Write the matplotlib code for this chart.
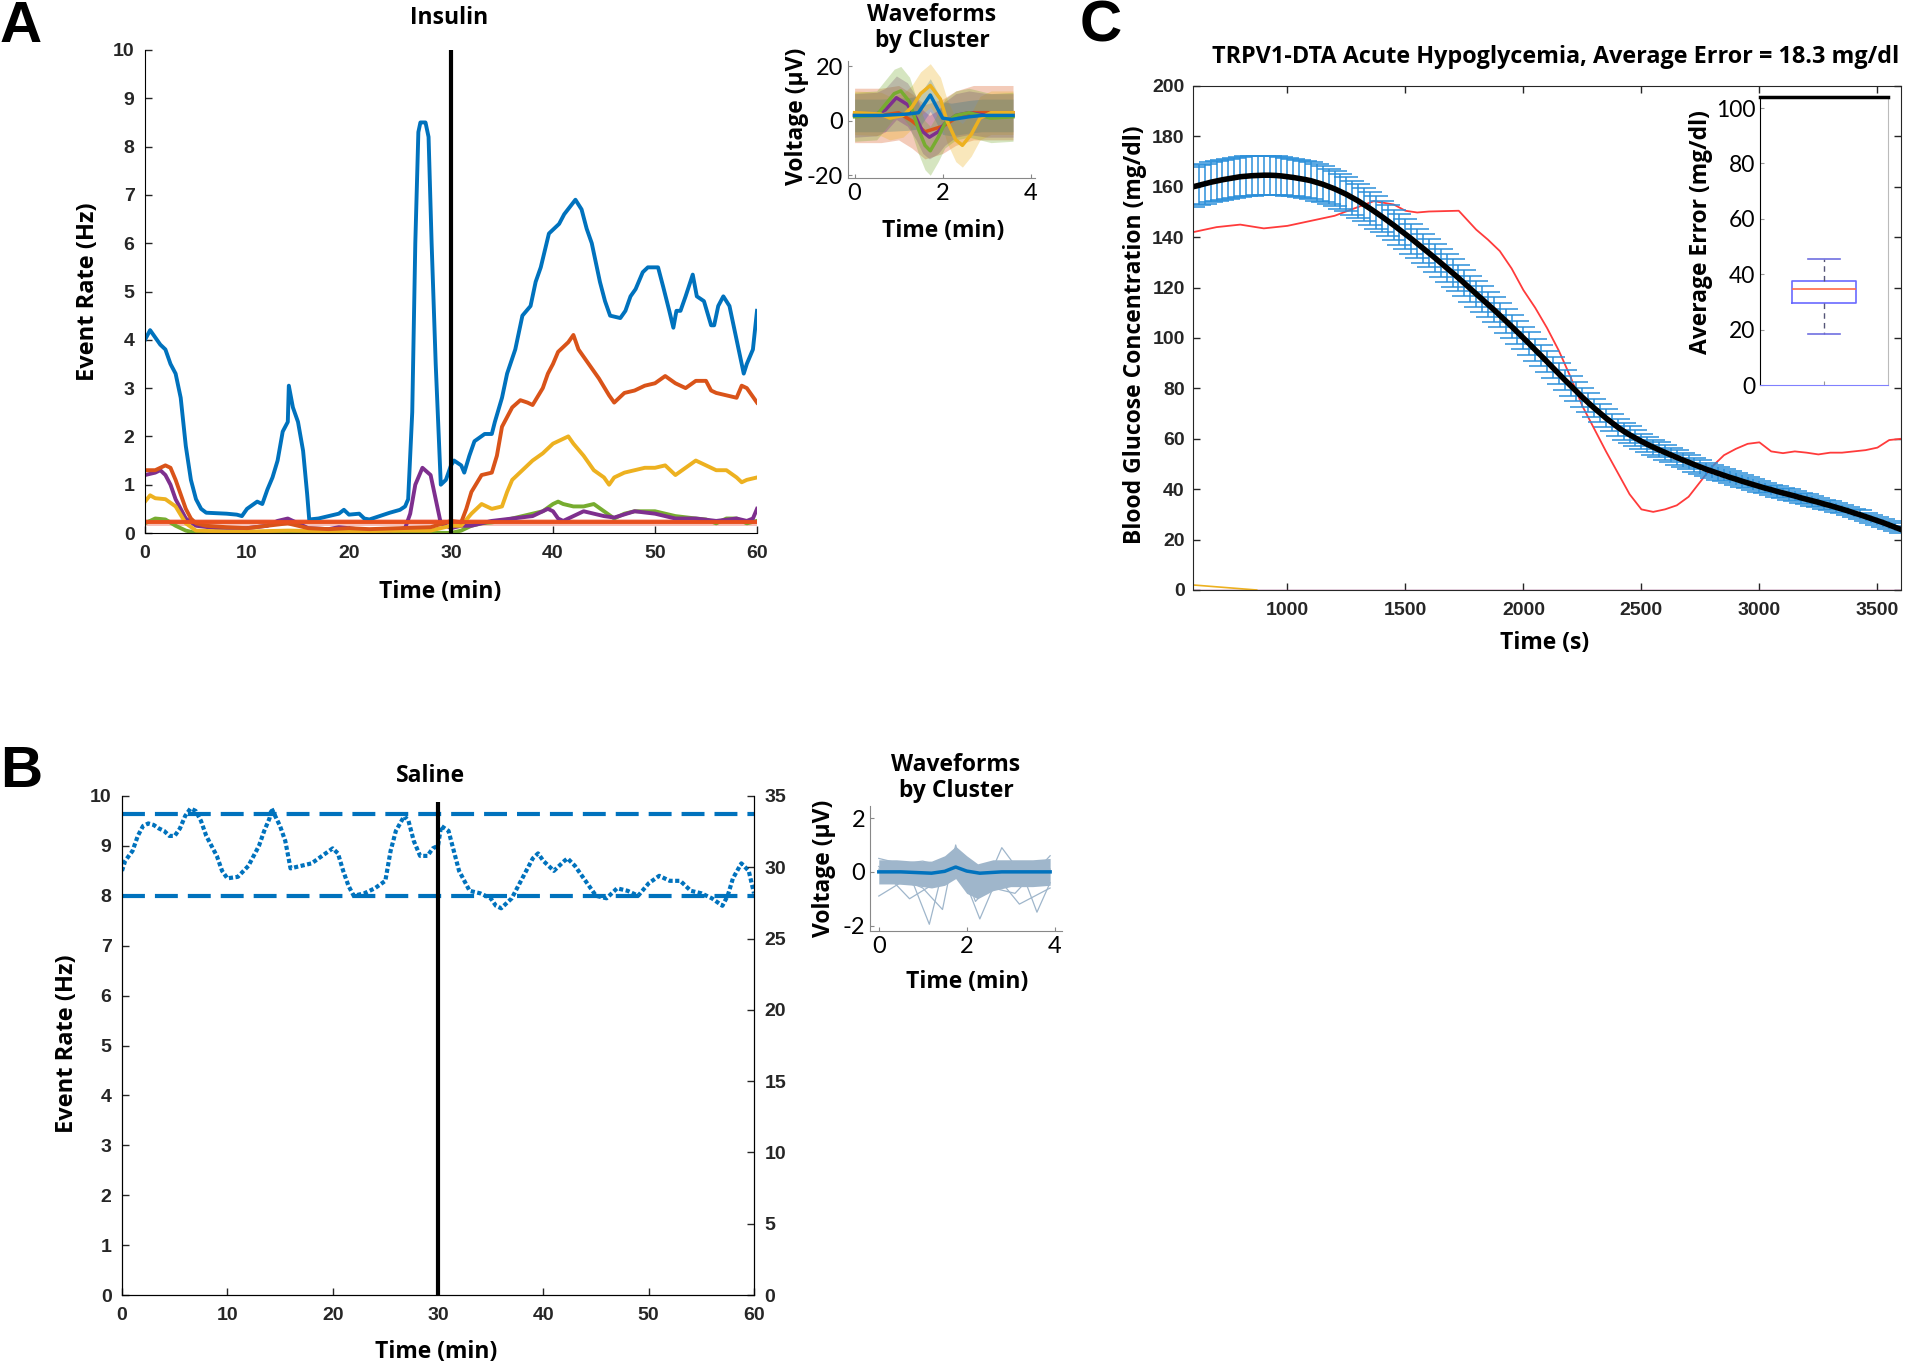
import matplotlib
matplotlib.use("Agg")
import matplotlib.pyplot as plt

# ---------------- data ----------------
# Panel A: insulin event rates (Hz) per cluster
blue_t = [0, 0.5, 1.5, 2, 2.5, 3, 3.5, 4, 4.5, 5, 5.5, 6, 8, 9, 9.5, 10, 11, 11.5, 12, 12.5, 13, 13.5, 14,
          14.1, 14.5, 15, 15.5, 15.9, 16.1, 17, 18, 19, 19.5, 20, 21, 21.5, 22, 23, 24, 25, 25.5, 25.8, 26.2,
          26.5, 26.8, 27, 27.5, 27.8, 28.1, 28.5, 29, 29.5, 30, 30.3, 31, 31.3, 31.8, 32.3, 33.3, 34, 34.3,
          35, 35.5, 36.3, 37, 37.8, 38.3, 38.8, 39.6, 40.1, 40.6, 41.1, 42.2, 42.8, 43.3, 43.8, 44.6, 45.1,
          45.6, 46.6, 47.1, 47.6, 48.1, 48.8, 49.3, 50.3, 50.8, 51.4, 51.8, 52.1, 52.5, 53, 53.7, 54.1, 54.8,
          55.5, 55.8, 56.2, 56.7, 57.3, 58, 58.7, 59, 59.6, 60]
blue_v = [4.0, 4.2, 3.9, 3.8, 3.5, 3.3, 2.8, 1.8, 1.1, 0.7, 0.5, 0.42, 0.4, 0.38, 0.35, 0.5, 0.65, 0.6, 0.9,
          1.15, 1.5, 2.1, 2.3, 3.05, 2.6, 2.3, 1.7, 0.8, 0.28, 0.3, 0.35, 0.4, 0.48, 0.38, 0.4, 0.3, 0.28,
          0.35, 0.42, 0.48, 0.55, 0.7, 2.5, 6.0, 8.3, 8.5, 8.5, 8.2, 6.0, 3.5, 1.0, 1.1, 1.4, 1.5, 1.4, 1.25,
          1.6, 1.9, 2.05, 2.05, 2.3, 2.8, 3.3, 3.8, 4.5, 4.7, 5.2, 5.5, 6.2, 6.3, 6.4, 6.6, 6.9, 6.7, 6.3, 6.0,
          5.2, 4.8, 4.5, 4.45, 4.6, 4.9, 5.05, 5.4, 5.5, 5.5, 5.1, 4.6, 4.25, 4.6, 4.6, 4.9, 5.35, 4.9, 4.8,
          4.3, 4.3, 4.7, 4.9, 4.7, 4.0, 3.3, 3.5, 3.8, 4.6]
orange_t = [0, 1, 2, 2.5, 3, 3.5, 4, 4.5, 5, 6, 8, 10, 12, 14, 16, 18, 20, 22, 25, 28, 30, 31, 31.5, 32, 33,
            34, 34.5, 35, 36, 36.8, 37.5, 38, 39, 39.5, 40, 40.5, 41.5, 42, 42.5, 43.5, 44.5, 45.5, 46, 47,
            48, 49, 50, 51, 52, 53, 54, 55, 55.5, 56, 57, 58, 58.5, 59, 60]
orange_v = [1.3, 1.3, 1.4, 1.35, 1.1, 0.8, 0.5, 0.3, 0.2, 0.15, 0.12, 0.1, 0.15, 0.2, 0.1, 0.08, 0.1, 0.08,
            0.1, 0.12, 0.25, 0.22, 0.5, 0.85, 1.2, 1.25, 1.6, 2.2, 2.6, 2.75, 2.7, 2.65, 3.0, 3.3, 3.5, 3.75,
            3.95, 4.1, 3.8, 3.5, 3.2, 2.85, 2.7, 2.9, 2.95, 3.05, 3.1, 3.25, 3.1, 3.0, 3.15, 3.15, 2.95, 2.9,
            2.85, 2.8, 3.05, 3.0, 2.7]
yellow_t = [0, 0.5, 1, 2, 3, 4, 5, 8, 10, 14, 20, 25, 28, 30, 31, 32, 33, 34, 35, 35.5, 36, 37, 38, 39, 40,
            41, 41.5, 42, 43, 44, 45, 45.5, 46, 47, 48, 49, 50, 51, 52, 53, 54, 55, 56, 57, 58, 58.5, 59, 60]
yellow_v = [0.65, 0.78, 0.72, 0.7, 0.55, 0.2, 0.05, 0.03, 0.03, 0.05, 0.03, 0.05, 0.05, 0.15, 0.15, 0.4,
            0.6, 0.5, 0.55, 0.85, 1.1, 1.3, 1.5, 1.65, 1.85, 1.95, 2.0, 1.85, 1.6, 1.3, 1.15, 1.0, 1.15, 1.25,
            1.3, 1.35, 1.35, 1.4, 1.2, 1.35, 1.5, 1.4, 1.3, 1.3, 1.15, 1.05, 1.1, 1.15]
purple_t = [0, 1, 1.5, 2, 2.5, 3, 4, 5, 7, 10, 12, 13, 14, 15, 16, 18, 19, 20, 22, 24, 25.5, 26, 26.5, 27.2,
            28, 28.5, 29, 30, 31, 32, 33, 34, 36, 38, 39, 39.5, 40, 40.5, 41, 42, 43, 44, 45, 46, 48, 50, 52,
            54, 56, 58, 59, 59.6, 60]
purple_v = [1.2, 1.25, 1.3, 1.2, 1.0, 0.7, 0.3, 0.15, 0.1, 0.1, 0.15, 0.25, 0.3, 0.2, 0.1, 0.08, 0.12, 0.1,
            0.05, 0.05, 0.1, 0.4, 1.0, 1.35, 1.2, 0.7, 0.2, 0.1, 0.15, 0.15, 0.2, 0.25, 0.3, 0.35, 0.45, 0.5,
            0.45, 0.3, 0.25, 0.35, 0.45, 0.4, 0.35, 0.32, 0.45, 0.4, 0.3, 0.3, 0.25, 0.3, 0.25, 0.3, 0.5]
green_t = [0, 1, 2, 3, 4, 5, 10, 15, 20, 25, 30, 31, 32, 33, 34, 35, 36, 37, 38, 39, 40, 40.5, 41, 42, 43,
           44, 45, 46, 47, 48, 49, 50, 51, 52, 54, 55, 56, 57, 58, 59, 60]
green_v = [0.2, 0.3, 0.28, 0.15, 0.05, 0.0, 0.0, 0.02, 0.0, 0.02, 0.0, 0.05, 0.15, 0.2, 0.22, 0.25, 0.3,
           0.35, 0.4, 0.45, 0.6, 0.65, 0.6, 0.55, 0.55, 0.6, 0.45, 0.3, 0.4, 0.45, 0.45, 0.45, 0.4, 0.35,
           0.3, 0.28, 0.2, 0.3, 0.3, 0.2, 0.25]
threshold_t = [0, 60]
threshold_v = [0.22, 0.22]

# Waveforms (insulin), mean per cluster and spread
wf_blue_t = [0, 0.6, 1.2, 1.45, 1.72, 2.0, 2.2, 2.6, 2.9, 3.6]
wf_blue_v = [2, 2, 2.5, 3, 9.5, 1, 0.5, 1.5, 2, 2]
wf_orange_t = [0, 0.6, 1.0, 1.3, 1.6, 1.8, 2.0, 2.3, 2.7, 3.6]
wf_orange_v = [2, 2, 3, 0, -4, -3, -2, 1, 3, 3]
wf_yellow_t = [0, 0.6, 0.8, 1.1, 1.3, 1.5, 1.72, 1.95, 2.1, 2.3, 2.45, 2.65, 2.85, 3.1, 3.6]
wf_yellow_v = [3, 2.5, 1, 2, 5, 10, 13, 8, 0, -7, -9, -5, 1, 3, 3]
wf_purple_t = [0, 0.5, 0.7, 0.95, 1.2, 1.4, 1.55, 1.7, 1.9, 2.05, 2.3, 2.6, 3.0, 3.6]
wf_purple_v = [2, 2.5, 4, 8.5, 6, 1, -4, -6, -4, -1, 2, 3, 2, 2]
wf_green_t = [0, 0.5, 0.7, 0.9, 1.05, 1.25, 1.45, 1.6, 1.72, 1.9, 2.05, 2.3, 2.6, 2.85, 3.1, 3.6]
wf_green_v = [1.5, 2, 6, 10, 11, 7, -3, -9, -11, -6, -1, 2, 3, 2, 1, 1.5]
wf_spread = {"blue": 6, "orange": 10, "yellow": 8, "purple": 8, "green": 9}

# Panel B: saline event rate (Hz)
saline_t = [0, 0.3, 1, 1.5, 2, 2.5, 3, 3.5, 4, 4.5, 5, 5.5, 6, 6.5, 7, 7.5, 8, 8.5, 9, 9.5, 10, 11, 12, 13,
            13.5, 14, 14.2, 15, 15.5, 16, 17, 18, 19, 20, 20.5, 21, 21.5, 22, 23, 24, 25, 25.5, 26, 26.8,
            27.2, 27.7, 28.3, 29, 29.5, 30, 30.3, 31, 31.5, 32, 33, 34, 35, 35.5, 36, 37, 38, 39, 39.5, 40,
            41, 42, 42.3, 43, 44, 45, 46, 47, 48, 49, 50, 51, 52, 53, 54, 55, 56, 57, 57.5, 58, 58.8, 59.5, 60]
saline_v = [8.5, 8.7, 8.9, 9.2, 9.4, 9.45, 9.42, 9.35, 9.3, 9.2, 9.2, 9.35, 9.6, 9.75, 9.7, 9.5, 9.2, 9.0,
            8.8, 8.5, 8.35, 8.38, 8.6, 9.0, 9.3, 9.55, 9.75, 9.4, 9.1, 8.55, 8.6, 8.65, 8.8, 8.95, 8.85, 8.5,
            8.2, 8.0, 8.05, 8.15, 8.3, 8.9, 9.3, 9.6, 9.5, 9.1, 8.8, 8.8, 8.95, 9.0, 9.4, 9.3, 8.9, 8.5, 8.1,
            8.05, 7.95, 7.8, 7.75, 7.95, 8.35, 8.75, 8.85, 8.7, 8.5, 8.7, 8.75, 8.6, 8.3, 8.0, 7.95, 8.15,
            8.1, 8.0, 8.25, 8.4, 8.3, 8.3, 8.1, 8.05, 7.95, 7.8, 8.0, 8.35, 8.65, 8.5, 8.05]
saline_bounds = [9.63, 8.0]

# Waveforms (saline)
wfs_t = [0, 0.5, 1.2, 1.5, 1.75, 2.0, 2.3, 2.8, 3.9]
wfs_v = [0, 0, -0.05, 0.02, 0.18, 0.03, -0.05, 0, 0]
wfs_band_t = [0, 0.4, 0.8, 1.2, 1.5, 1.75, 2.0, 2.25, 2.6, 3.0, 3.5, 3.9]
wfs_band_hi = [0.45, 0.45, 0.4, 0.4, 0.6, 0.95, 0.6, 0.3, 0.45, 0.45, 0.45, 0.5]
wfs_band_lo = [-0.45, -0.45, -0.5, -0.6, -0.5, -0.25, -0.8, -1.0, -0.7, -0.55, -0.55, -0.5]
wfs_out_t = [[0, 0.4, 0.8, 1.15, 1.4, 1.75, 2.1, 2.6, 3.0, 3.9],
             [0, 0.6, 1.0, 1.45, 1.75, 2.0, 2.3, 2.6, 3.1, 3.9],
             [0, 0.7, 1.3, 1.8, 2.4, 2.8, 3.3, 3.6, 3.9],
             [0, 0.5, 1.0, 1.5, 1.75, 2.2, 2.7, 3.2, 3.9]]
wfs_out_v = [[0.1, -0.2, -0.5, -1.95, -0.3, 0.6, -0.3, 0.2, -0.4, 0.1],
             [-0.9, -0.3, -0.6, -1.4, 1.0, -0.5, -1.75, -0.6, -0.8, 0.6],
             [0.2, -1.0, -0.4, 0.8, -0.6, 0.9, -0.2, -1.5, -0.4],
             [0.5, 0.3, 0.4, 0.2, 0.9, -1.1, -0.2, -1.2, -0.6]]

# Panel C: glucose prediction (mg/dl), one value every 25 s from 600 s to 3600 s
pred_t = list(range(600, 3601, 25))
pred_mean = [160.0, 160.6, 161.2, 161.8, 162.3, 162.8, 163.2, 163.6,
             164.0, 164.2, 164.4, 164.5, 164.6, 164.6, 164.5, 164.3,
             164.0, 163.7, 163.3, 162.9, 162.4, 161.7, 161.0, 160.1,
             159.2, 158.1, 157.0, 155.7, 154.4, 152.9, 151.4, 149.8,
             148.2, 146.5, 144.8, 143.0, 141.2, 139.4, 137.5, 135.6,
             133.7, 131.8, 129.8, 127.8, 125.8, 123.8, 121.7, 119.6,
             117.5, 115.4, 113.3, 111.2, 109.0, 106.8, 104.6, 102.3,
             100.0, 97.7, 95.3, 93.0, 90.6, 88.2, 85.8, 83.4,
             81.1, 78.8, 76.5, 74.3, 72.2, 70.2, 68.2, 66.4,
             64.6, 63.0, 61.6, 60.3, 59.0, 57.8, 56.7, 55.6,
             54.6, 53.6, 52.6, 51.6, 50.7, 49.7, 48.8, 47.9,
             47.1, 46.3, 45.5, 44.7, 44.0, 43.2, 42.5, 41.8,
             41.1, 40.4, 39.8, 39.1, 38.5, 37.9, 37.3, 36.6,
             36.0, 35.4, 34.8, 34.1, 33.5, 32.8, 32.1, 31.4,
             30.6, 29.9, 29.1, 28.3, 27.5, 26.7, 25.8, 24.9,
             24.0]
pred_err = [8.0, 8.0, 8.0, 8.0, 8.0, 8.0, 8.0, 8.0,
            8.0, 8.0, 7.9, 7.9, 7.8, 7.8, 7.7, 7.7,
            7.6, 7.5, 7.4, 7.4, 7.3, 7.2, 7.1, 7.1,
            7.0, 6.9, 6.8, 6.7, 6.6, 6.5, 6.4, 6.4,
            6.3, 6.2, 6.1, 6.1, 6.0, 5.9, 5.8, 5.8,
            5.7, 5.6, 5.5, 5.5, 5.4, 5.3, 5.2, 5.2,
            5.1, 5.1, 5.0, 4.9, 4.8, 4.8, 4.7, 4.6,
            4.5, 4.5, 4.4, 4.3, 4.2, 4.2, 4.1, 4.1,
            4.0, 3.9, 3.8, 3.8, 3.7, 3.6, 3.5, 3.5,
            3.4, 3.4, 3.3, 3.2, 3.1, 3.1, 3.0, 3.0,
            2.9, 2.9, 2.8, 2.8, 2.7, 2.7, 2.6, 2.6,
            2.5, 2.5, 2.4, 2.4, 2.3, 2.3, 2.2, 2.2,
            2.1, 2.1, 2.0, 2.0, 2.0, 2.0, 1.9, 1.9,
            1.9, 1.9, 1.8, 1.8, 1.8, 1.8, 1.7, 1.7,
            1.7, 1.7, 1.6, 1.6, 1.6, 1.6, 1.5, 1.5,
            1.5]
actual_t = [600, 700, 800, 900, 1000, 1100, 1200, 1300, 1366, 1450, 1500, 1550, 1600, 1726, 1800, 1850,
            1900, 1950, 2000, 2050, 2100, 2150, 2200, 2250, 2300, 2350, 2400, 2450, 2500, 2550, 2600, 2650,
            2700, 2750, 2800, 2850, 2900, 2950, 3000, 3050, 3100, 3150, 3200, 3250, 3300, 3350, 3400, 3450,
            3500, 3550, 3600]
actual_v = [142, 144, 145, 143.5, 144.5, 146.5, 148.5, 152, 154.3, 153, 150.5, 149.8, 150.2, 150.5, 143,
            139, 134.5, 127.6, 119, 112, 104, 95, 84.5, 73, 64, 55, 46.5, 38, 32, 31, 32, 33.6, 37, 43, 49,
            53.5, 56, 58, 58.6, 55, 54.3, 55, 54.5, 53.8, 54.5, 54.5, 55, 55.5, 56.5, 59.5, 60]
other_t = [600, 870]
other_v = [2, 0]

# inset: boxplot of average error
err_box = {"whislo": 18.5, "q1": 29.5, "med": 34.5, "q3": 37.5, "whishi": 45.5}

# ---------------- style ----------------
W, H = 1908, 1366
C_BLUE, C_ORANGE, C_YELLOW = "#0072BD", "#D95319", "#EDB120"
C_PURPLE, C_GREEN = "#7E2F8E", "#77AC30"
NUM = ["Liberation Sans", "DejaVu Sans"]
LAB = ["Open Sans", "DejaVu Sans"]
REG = ["Lato", "DejaVu Sans"]

fig = plt.figure(figsize=(W / 100, H / 100), dpi=100)


def box(l, t, r, b):
    # pixel box -> figure fraction
    return [l / W, 1 - b / H, (r - l) / W, (b - t) / H]


def ftext(x, y, s, **kw):
    kw.setdefault("family", LAB)
    kw.setdefault("weight", "bold")
    fig.text(x / W, 1 - y / H, s, ha=kw.pop("ha", "center"), va=kw.pop("va", "center"), **kw)


def num_ticks(ax, xt, yt, size=14, xpad=8.5, ypad=7.5):
    # MATLAB-like inward ticks with bold numbers
    if xt is not None:
        ax.set_xticks(xt, [str(v) for v in xt], fontsize=size, family=NUM, weight="bold")
    if yt is not None:
        ax.set_yticks(yt, [str(v) for v in yt], fontsize=size, family=NUM, weight="bold")
    ax.tick_params(direction="in", length=5, width=1, colors="#262626")
    ax.tick_params(axis="x", pad=xpad)
    ax.tick_params(axis="y", pad=ypad)


def small_ticks(ax, xt, yt, size=17):
    ax.set_xticks(xt, [str(v) for v in xt], fontsize=size, family=REG)
    ax.set_yticks(yt, [str(v) for v in yt], fontsize=size, family=REG)
    for s in ["top", "right"]:
        ax.spines[s].set_visible(False)
    for s in ["left", "bottom"]:
        ax.spines[s].set_color("#888888")
    ax.tick_params(direction="in", length=3, colors="#888888", labelcolor="black")


# ---------------- panel A ----------------
axA = fig.add_axes(box(145, 50, 757, 533))
axA.plot(threshold_t, threshold_v, color="#F08070", lw=5, alpha=0.5)
axA.plot(green_t, green_v, color=C_GREEN, lw=2.8)
axA.plot(purple_t, purple_v, color=C_PURPLE, lw=2.8)
axA.plot(yellow_t, yellow_v, color=C_YELLOW, lw=2.8)
axA.plot(orange_t, orange_v, color=C_ORANGE, lw=2.8)
axA.plot(blue_t, blue_v, color=C_BLUE, lw=2.8)
axA.plot(threshold_t, threshold_v, color="#E8501E", lw=2.8)
axA.vlines(30, 0, 10, color="black", lw=3)
axA.set_xlim(0, 60)
axA.set_ylim(0, 10)
for s in ["top", "right"]:
    axA.spines[s].set_visible(False)
num_ticks(axA, list(range(0, 61, 10)), list(range(0, 11)))
ftext(449, 18, "Insulin", size=16.5)
ftext(440, 592, "Time (min)", size=16.5)
ftext(88, 292, "Event Rate (Hz)", size=17, rotation=90)
ftext(0, 0, "A", family=["Liberation Sans", "DejaVu Sans"], size=42, ha="left", va="top")

# waveforms inset A
axWA = fig.add_axes(box(848, 61, 1035, 178))
clusters = [("orange", wf_orange_t, wf_orange_v, C_ORANGE),
            ("blue", wf_blue_t, wf_blue_v, C_BLUE),
            ("yellow", wf_yellow_t, wf_yellow_v, C_YELLOW),
            ("purple", wf_purple_t, wf_purple_v, C_PURPLE),
            ("green", wf_green_t, wf_green_v, C_GREEN)]
for name, t, v, c in clusters:
    sp = wf_spread[name]
    axWA.fill_between(t, [y - sp for y in v], [y + sp for y in v], color=c, alpha=0.3, lw=0)
for name, t, v, c in [clusters[0], clusters[3], clusters[4], clusters[2], clusters[1]]:
    axWA.plot(t, v, color=c, lw=2.5)
axWA.set_xlim(-0.15, 4.1)
axWA.set_ylim(-21, 22)
small_ticks(axWA, [0, 2, 4], [-20, 0, 20])
ftext(932, 28, "Waveforms\nby Cluster", size=16.5, linespacing=1.1)
ftext(797, 116, "Voltage (\u00b5V)", size=16.5, rotation=90)
ftext(943, 231, "Time (min)", size=16.5)

# ---------------- panel B ----------------
axB = fig.add_axes(box(122, 796, 754, 1295))
for yb in saline_bounds:
    axB.plot([0, 60], [yb, yb], color=C_BLUE, lw=3, ls=(0, (5.5, 2.4)))
axB.plot(saline_t, saline_v, color=C_BLUE, lw=3, ls=(0, (1, 0.6)))
axB.vlines(30, 0, 9.87, color="black", lw=3)
axB.set_xlim(0, 60)
axB.set_ylim(0, 10)
axB.spines["top"].set_visible(False)
num_ticks(axB, list(range(0, 61, 10)), list(range(0, 11)))
axB2 = axB.twinx()
axB2.set_ylim(0, 35)
axB2.spines["top"].set_visible(False)
num_ticks(axB2, None, list(range(0, 36, 5)))
ftext(431, 776, "Saline", size=16.5)
ftext(436, 1352, "Time (min)", size=16.5)
ftext(67, 1044, "Event Rate (Hz)", size=17, rotation=90)
ftext(0, 745, "B", family=["Liberation Sans", "DejaVu Sans"], size=42, ha="left", va="top")

# waveforms inset B
axWB = fig.add_axes(box(870, 806, 1062, 931))
axWB.fill_between(wfs_band_t, wfs_band_lo, wfs_band_hi, color="#9FB6CB", lw=0)
for t, v in zip(wfs_out_t, wfs_out_v):
    axWB.plot(t, v, color="#9FB6CB", lw=0.9)
axWB.plot(wfs_t, wfs_v, color=C_BLUE, lw=2.5)
axWB.set_xlim(-0.2, 4.17)
axWB.set_ylim(-2.2, 2.45)
small_ticks(axWB, [0, 2, 4], [-2, 0, 2])
ftext(956, 778, "Waveforms\nby Cluster", size=16.5, linespacing=1.1)
ftext(824, 868, "Voltage (\u00b5V)", size=16.5, rotation=90)
ftext(967, 982, "Time (min)", size=16.5)

# ---------------- panel C ----------------
axC = fig.add_axes(box(1193, 86, 1901, 590))
axC.plot([600, 3600], [0, 0], color="#A0307E", lw=1)
axC.plot(other_t, other_v, color=C_YELLOW, lw=1.2)
axC.plot(actual_t, actual_v, color="#FF3B3B", lw=1.3)
axC.errorbar(pred_t, pred_mean, yerr=pred_err, fmt="none", ecolor="#2B8FDA",
             elinewidth=1.1, capsize=8.5, capthick=1.1)
axC.plot(pred_t, pred_mean, color="black", lw=4)
axC.set_xlim(600, 3600)
axC.set_ylim(0, 200)
for s in axC.spines.values():
    s.set_color("#262626")
num_ticks(axC, list(range(1000, 3501, 500)), list(range(0, 201, 20)), size=14, ypad=6)
axC.tick_params(top=True, right=True)
ftext(1556, 57, "TRPV1-DTA Acute Hypoglycemia, Average Error = 18.3 mg/dl", size=16.8)
ftext(1545, 643, "Time (s)", size=16.5)
ftext(1135, 335, "Blood Glucose Concentration (mg/dl)", size=16.5, rotation=90)
ftext(1080, 0, "C", family=["Liberation Sans", "DejaVu Sans"], size=42, ha="left", va="top")

# inset boxplot
axI = fig.add_axes(box(1760, 97, 1888, 385))
stats = dict(err_box)
stats["fliers"] = []
axI.bxp([stats], positions=[1], widths=0.5, showfliers=False,
        boxprops=dict(color="#6A6AFF", lw=1.2),
        medianprops=dict(color="#FF6A4A", lw=1.2),
        whiskerprops=dict(color="#555577", lw=1, ls=(0, (4, 3))),
        capprops=dict(color="#7070E0", lw=1.2))
axI.set_xlim(0.5, 1.5)
axI.set_ylim(0, 104)
axI.set_xticks([1], [""])
axI.set_yticks(list(range(0, 101, 20)), [str(v) for v in range(0, 101, 20)], fontsize=16.5, family=REG)
axI.tick_params(direction="in", length=3, colors="#999999", labelcolor="black")
axI.spines["top"].set_linewidth(2.5)
axI.spines["top"].set_color("black")
axI.spines["left"].set_color("black")
axI.spines["right"].set_color("#BBBBBB")
axI.spines["bottom"].set_color("#8080FF")
ftext(1701, 232, "Average Error (mg/dl)", size=16.5, rotation=90)

fig.savefig("out.png", dpi=100, facecolor="white")
